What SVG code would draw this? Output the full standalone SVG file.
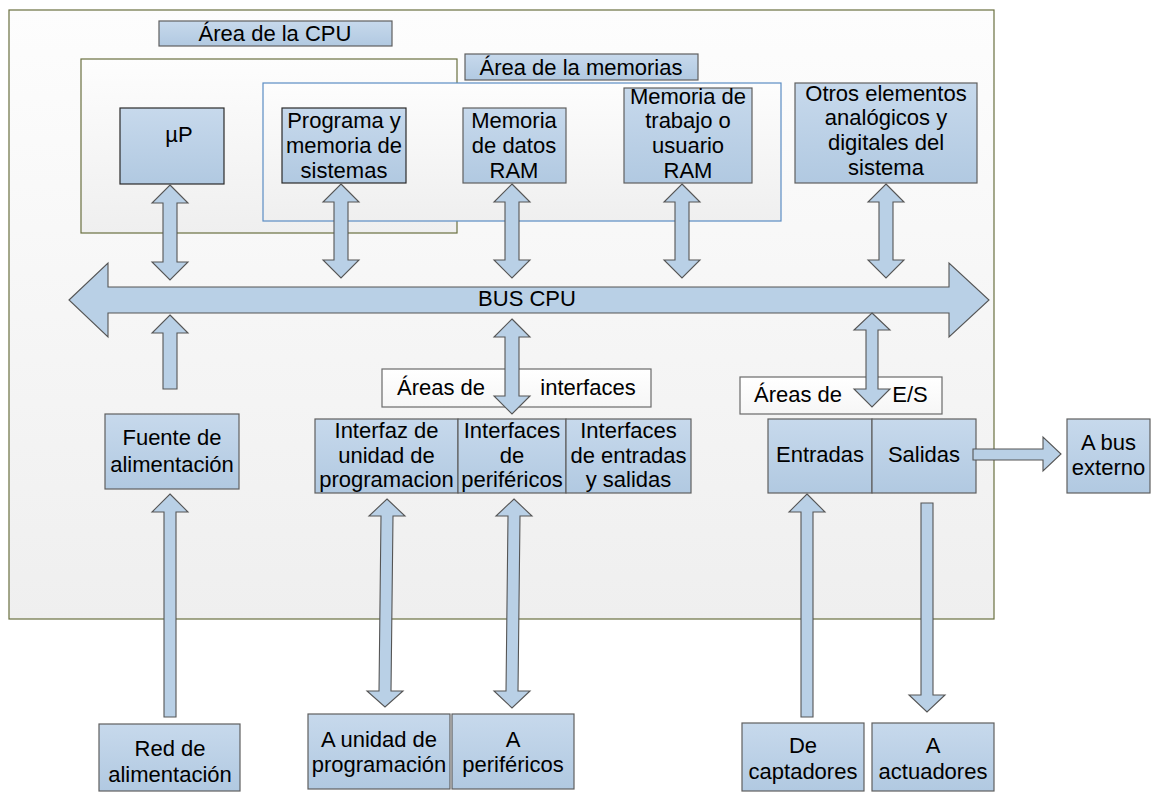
<svg xmlns="http://www.w3.org/2000/svg" width="1169" height="792" viewBox="0 0 1169 792">
  <defs>
    <linearGradient id="blueFill" x1="0" y1="0" x2="0" y2="1">
      <stop offset="0" stop-color="#c7d9ec"/>
      <stop offset="1" stop-color="#b1c9e1"/>
    </linearGradient>
    <linearGradient id="paneFill" x1="0" y1="0" x2="0" y2="1">
      <stop offset="0" stop-color="#fdfdfd"/>
      <stop offset="1" stop-color="#efefef"/>
    </linearGradient>
    <linearGradient id="whiteFill" x1="0" y1="0" x2="0" y2="1">
      <stop offset="0" stop-color="#ffffff"/>
      <stop offset="1" stop-color="#f6f6f6"/>
    </linearGradient>
    <style>
      .frame { fill: url(#paneFill); stroke: #6a7040; stroke-width: 1.2; }
      .mem { fill: url(#paneFill); stroke: #5b8dc4; stroke-width: 1.2; }
      .box { fill: url(#blueFill); stroke: #5f5f5f; stroke-width: 1.2; }
      .dark { stroke: #2a2a2a; }
      .tag { fill: url(#whiteFill); stroke: #6a6a6a; stroke-width: 1.2; }
      .arrow { fill: #b9d0e6; stroke: #555555; stroke-width: 1.1; stroke-linejoin: miter; }
      text { font-family: "Liberation Sans", Arial, sans-serif; font-size: 22px; fill: #000; text-anchor: middle; }
    </style>
  </defs>

  <rect width="1169" height="792" fill="#ffffff"/>

  <!-- outer system frame -->
  <g id="system-frame">
    <rect class="frame" x="9" y="10" width="985" height="609"/>
  </g>

  <!-- CPU area and its title -->
  <g id="cpu-area">
    <rect class="frame" x="81" y="59" width="376" height="174"/>
  </g>
  <g id="cpu-area-title">
    <rect class="box" x="159" y="21" width="233" height="25"/>
    <text x="275" y="41">Área de la CPU</text>
  </g>

  <!-- memory area and its title -->
  <g id="memory-area">
    <rect class="mem" x="263" y="83" width="518" height="138"/>
  </g>
  <g id="memory-area-title">
    <rect class="box" x="465" y="54" width="233" height="26"/>
    <text x="581" y="75">Área de la memorias</text>
  </g>

  <!-- CPU side blocks -->
  <g id="up">
    <rect class="box dark" x="120" y="108" width="104" height="76"/>
    <text x="179" y="142">µP</text>
  </g>
  <g id="program-memory">
    <rect class="box dark" x="282" y="108" width="124" height="75"/>
    <text x="344" y="128">Programa y</text>
    <text x="344" y="153">memoria de</text>
    <text x="344" y="178">sistemas</text>
  </g>
  <g id="data-ram">
    <rect class="box" x="463" y="108" width="103" height="75"/>
    <text x="514" y="128">Memoria</text>
    <text x="514" y="153">de datos</text>
    <text x="514" y="178">RAM</text>
  </g>
  <g id="user-ram">
    <rect class="box" x="624" y="88" width="128" height="95"/>
    <text x="688" y="104">Memoria de</text>
    <text x="688" y="128">trabajo o</text>
    <text x="688" y="153">usuario</text>
    <text x="688" y="178">RAM</text>
  </g>
  <g id="other-elements">
    <rect class="box" x="795" y="83" width="182" height="100"/>
    <text x="886" y="101">Otros elementos</text>
    <text x="886" y="125">analógicos y</text>
    <text x="886" y="150">digitales del</text>
    <text x="886" y="175">sistema</text>
  </g>

  <!-- area labels of the lower half -->
  <g id="interfaces-title">
    <rect class="tag" x="382" y="369" width="269" height="38"/>
    <text x="441" y="395">Áreas de</text>
    <text x="588" y="395">interfaces</text>
  </g>
  <g id="io-title">
    <rect class="tag" x="740" y="377" width="202" height="37"/>
    <text x="798" y="402">Áreas de</text>
    <text x="910" y="402">E/S</text>
  </g>

  <!-- power supply -->
  <g id="power-supply">
    <rect class="box" x="105" y="414" width="134" height="75"/>
    <text x="172" y="445">Fuente de</text>
    <text x="172" y="472">alimentación</text>
  </g>

  <!-- interface blocks -->
  <g id="programming-interface">
    <rect class="box" x="315" y="419" width="143" height="74"/>
    <text x="386.5" y="438">Interfaz de</text>
    <text x="386.5" y="463">unidad de</text>
    <text x="386.5" y="487">programacion</text>
  </g>
  <g id="peripheral-interfaces">
    <rect class="box" x="458" y="419" width="108" height="74"/>
    <text x="512" y="438">Interfaces</text>
    <text x="512" y="463">de</text>
    <text x="512" y="487">periféricos</text>
  </g>
  <g id="io-interfaces">
    <rect class="box" x="566" y="419" width="125" height="74"/>
    <text x="628.5" y="438">Interfaces</text>
    <text x="628.5" y="463">de entradas</text>
    <text x="628.5" y="487">y salidas</text>
  </g>

  <!-- inputs / outputs -->
  <g id="inputs">
    <rect class="box" x="768" y="419" width="104" height="74"/>
    <text x="820" y="462">Entradas</text>
  </g>
  <g id="outputs">
    <rect class="box" x="872" y="419" width="104" height="74"/>
    <text x="924" y="462">Salidas</text>
  </g>
  <g id="external-bus">
    <rect class="box" x="1067" y="419" width="83" height="74"/>
    <text x="1108.5" y="450">A bus</text>
    <text x="1108.5" y="475">externo</text>
  </g>

  <!-- external equipment -->
  <g id="mains">
    <rect class="box" x="99" y="724" width="141" height="67"/>
    <text x="170" y="756">Red de</text>
    <text x="170" y="782">alimentación</text>
  </g>
  <g id="programming-unit">
    <rect class="box" x="308" y="714" width="142" height="75"/>
    <text x="379" y="747">A unidad de</text>
    <text x="379" y="772">programación</text>
  </g>
  <g id="peripherals">
    <rect class="box" x="452" y="714" width="122" height="75"/>
    <text x="513" y="747">A</text>
    <text x="513" y="772">periféricos</text>
  </g>
  <g id="sensors">
    <rect class="box" x="742" y="723" width="122" height="68"/>
    <text x="803" y="753">De</text>
    <text x="803" y="779">captadores</text>
  </g>
  <g id="actuators">
    <rect class="box" x="872" y="723" width="122" height="68"/>
    <text x="933" y="753">A</text>
    <text x="933" y="779">actuadores</text>
  </g>

  <!-- block arrows -->
  <g id="connectors">
    <!-- CPU bus -->
    <path class="arrow" d="M69,300 L108,263 L108,287 L949,287 L949,263 L989,300 L949,337 L949,313 L108,313 L108,337 Z"/>
    <text x="527" y="306">BUS CPU</text>
    <!-- memory / processor links to the bus -->
    <path class="arrow" d="M170,185 L188,203 L177,203 L177,262 L188,262 L170,280 L152,262 L163,262 L163,203 L152,203 Z"/>
    <path class="arrow" d="M341,184 L359,202 L348,202 L348,260 L359,260 L341,278 L323,260 L334,260 L334,202 L323,202 Z"/>
    <path class="arrow" d="M512,184 L530,202 L519,202 L519,260 L530,260 L512,278 L494,260 L505,260 L505,202 L494,202 Z"/>
    <path class="arrow" d="M682,184 L700,202 L689,202 L689,260 L700,260 L682,278 L664,260 L675,260 L675,202 L664,202 Z"/>
    <path class="arrow" d="M886,184 L904,202 L893,202 L893,260 L904,260 L886,278 L868,260 L879,260 L879,202 L868,202 Z"/>
    <!-- power supply feed -->
    <path class="arrow" d="M170,315 L188,333 L177,333 L177,389 L163,389 L163,333 L152,333 Z"/>
    <!-- interfaces and I/O links to the bus -->
    <path class="arrow" d="M512,319 L530,337 L519,337 L519,396 L530,396 L512,414 L494,396 L505,396 L505,337 L494,337 Z"/>
    <path class="arrow" d="M872,313 L890,330 L878,330 L878,389 L890,389 L872,407 L854,389 L866,389 L866,330 L854,330 Z"/>
    <!-- mains to power supply -->
    <path class="arrow" d="M170,494 L188,512 L176,512 L176,717 L164,717 L164,512 L152,512 Z"/>
    <!-- programming unit and peripherals -->
    <path class="arrow" d="M387,499 L405,516 L393,516 L391,691 L403,691 L385,707 L367,691 L379,691 L381,516 L369,516 Z"/>
    <path class="arrow" d="M514,499 L532,516 L520,516 L518,691 L530,691 L512,708 L494,691 L506,691 L508,516 L496,516 Z"/>
    <!-- sensors to inputs -->
    <path class="arrow" d="M807,494 L825,512 L813,512 L813,717 L801,717 L801,512 L789,512 Z"/>
    <!-- outputs to actuators -->
    <path class="arrow" d="M921,503 L933,503 L933,695 L945,695 L927,712 L909,695 L921,695 Z"/>
    <!-- outputs to external bus -->
    <path class="arrow" d="M973,449 L1043,449 L1043,437 L1061,454 L1043,471 L1043,460 L973,460 Z"/>
  </g>
</svg>
